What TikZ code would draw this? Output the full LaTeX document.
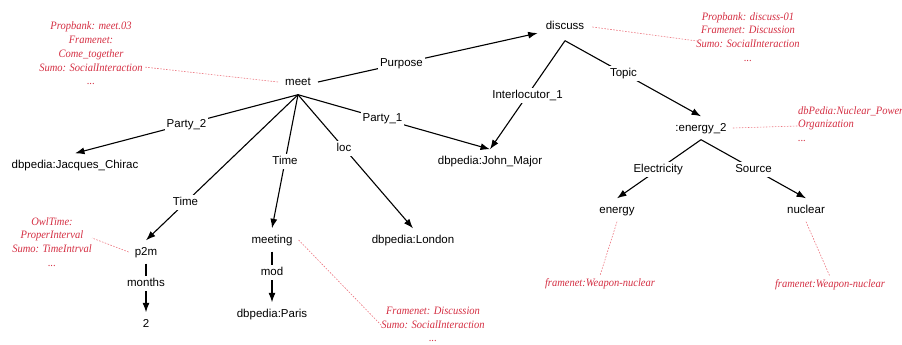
\documentclass[tikz,border=0pt]{standalone}
\usepackage{fontspec}
\setmainfont{Liberation Sans}
\newfontfamily\notefont[FakeStretch=0.93]{Liberation Serif}
\usetikzlibrary{arrows.meta}
\definecolor{notered}{RGB}{212,46,66}
\definecolor{notelinkcol}{RGB}{236,118,128}

\begin{document}
\begin{tikzpicture}[x=1pt,y=-1pt,
  concept/.style={font=\fontsize{11.5}{13}\selectfont, text height=8.5pt, text depth=2.5pt, inner sep=6pt},
  role/.style={font=\fontsize{11.5}{13}\selectfont, text height=8.5pt, text depth=2.5pt, inner sep=2pt, fill=white},
  link/.style={line width=1.1pt, draw=black},
  arc/.style={link, -{Latex[length=9.5pt,width=7pt]}},
  note/.style={font=\notefont\itshape\fontsize{11.3}{13.8}\selectfont, text=notered, align=center, inner sep=0pt},
  notelink/.style={draw=notelinkcol, line width=0.6pt, dash pattern=on 1.6pt off 1.4pt},
]
\useasboundingbox (0,0) rectangle (902,345);

% concepts
\node[concept, inner sep=7pt] (meet) at (298,82) {meet};
\node[concept, inner sep=8pt] (discuss) at (565,27) {discuss};
\node[concept] (chirac) at (75,165) {dbpedia:Jacques\_Chirac};
\node[concept] (major) at (490,161) {dbpedia:John\_Major};
\node[concept] (london) at (413,240) {dbpedia:London};
\node[concept] (p2m) at (146,252) {p2m};
\node[concept] (meeting) at (272,240) {meeting};
\node[concept] (two) at (146,324) {2};
\node[concept] (paris) at (272,314) {dbpedia:Paris};
\node[concept] (energyB) at (701,128) {:energy\_2};
\node[concept] (energy) at (617,210) {energy};
\node[concept] (nuclear) at (806,210) {nuclear};

% relations
\draw[arc] (meet.east) -- node[role, pos=.38] {Purpose} (discuss);
\draw[arc] (meet.south) -- node[role, pos=.5] {Party\_2} (chirac.north);
\draw[arc] (meet.south) -- node[role, pos=.74] {Time} (p2m.north);
\draw[arc] (meet.south) -- node[role, pos=.5] {Time} (meeting.north);
\draw[arc] (meet.south) -- node[role, pos=.4] {loc} (london.north);
\draw[arc] (meet.south) -- node[role, pos=.44] {Party\_1} (major.north);
\draw[arc] (discuss.south) -- node[role, pos=.5] {Interlocutor\_1} (major.north);
\draw[arc] (discuss.south) -- node[role, pos=.43] {Topic} (energyB.north);
\draw[arc] (energyB.south) -- node[role, pos=.51] {Electricity} (energy.north);
\draw[arc] (energyB.south) -- node[role, pos=.5] {Source} (nuclear.north);
\draw[arc] (p2m.south) -- node[role, pos=.4] {months} (two.north);
\draw[arc] (meeting.south) -- node[role, pos=.42] {mod} (paris.north);

% lexical annotations
\node[note] (meetnote) at (91,53.5) {Propbank: meet.03\\Framenet:\\Come\_together\\Sumo: SocialInteraction\\...};
\node[note] (discussnote) at (748,37) {Propbank: discuss-01\\Framenet: Discussion\\Sumo: SocialInteraction\\...};
\node[note, align=left, anchor=west] (energyBnote) at (798,124) {dbPedia:Nuclear\_Power\\Organization\\...};
\node[note] (p2mnote) at (52,242) {OwlTime:\\ProperInterval\\Sumo: TimeIntrval\\...};
\node[note] (meetingnote) at (433,324.5) {Framenet: Discussion\\Sumo: SocialInteraction\\...};
\node[note, inner sep=3pt] (energynote) at (600,284) {framenet:Weapon-nuclear};
\node[note, inner sep=3pt] (nuclearnote) at (830,285) {framenet:Weapon-nuclear};

\coordinate (meetnote-end) at (144,67);
\coordinate (discussnote-end) at (697,41);
\coordinate (energyBnote-end) at (798,126);
\coordinate (p2mnote-end) at (92,238);
\coordinate (meetingnote-end) at (382,326);

\draw[notelink] (meet.west) -- (meetnote-end);
\draw[notelink] (discuss.east) -- (discussnote-end);
\draw[notelink] (energyB.east) -- (energyBnote-end);
\draw[notelink] (p2m.west) -- (p2mnote-end);
\draw[notelink] (meeting.east) -- (meetingnote-end);
\draw[notelink] (energy.south) -- (energynote.north);
\draw[notelink] (nuclear.south) -- (nuclearnote.north);
\end{tikzpicture}
\end{document}
